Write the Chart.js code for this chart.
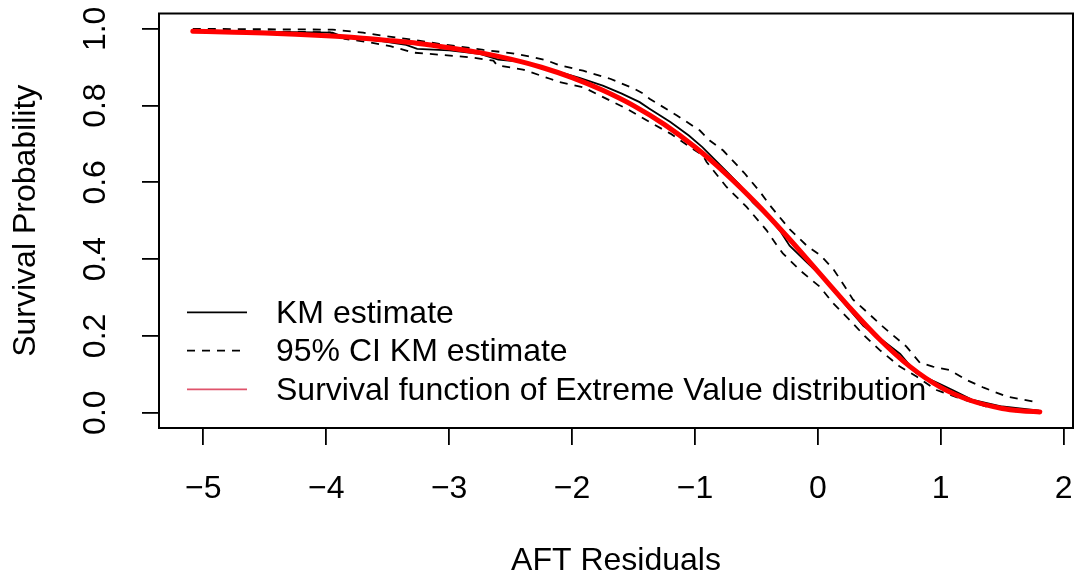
<!DOCTYPE html>
<html><head><meta charset="utf-8">
<script src="https://cdn.jsdelivr.net/npm/chart.js@4.4.1/dist/chart.umd.min.js"></script>
<style>html,body{margin:0;padding:0;background:#fff;} #wrap{width:1078px;height:580px;}</style>
</head><body><div id="wrap"><canvas id="c" width="1078" height="580"></canvas></div>
<script>
// ---- data ----
const xTicks = [-5, -4, -3, -2, -1, 0, 1, 2];
const yTicks = [0, 0.2, 0.4, 0.6, 0.8, 1.0];

const kmX = [-5.086, -4.6, -3.95, -3.85, -3.55, -3.35, -3.26, -3.0, -2.75, -2.6, -2.45, -2.2, -2.1, -1.94, -1.75, -1.6, -1.45, -1.37, -1.2, -1.05, -0.94, -0.77, -0.64, -0.53, -0.39, -0.3, -0.23, -0.1, 0.04, 0.2, 0.37, 0.52, 0.67, 0.8, 0.99, 1.1, 1.26, 1.5, 1.75, 1.8];
const kmY = [0.996, 0.993, 0.99, 0.978, 0.968, 0.958, 0.948, 0.944, 0.935, 0.92, 0.915, 0.895, 0.887, 0.872, 0.852, 0.832, 0.809, 0.792, 0.757, 0.722, 0.692, 0.637, 0.595, 0.548, 0.505, 0.47, 0.435, 0.395, 0.352, 0.29, 0.226, 0.19, 0.153, 0.103, 0.075, 0.058, 0.033, 0.016, 0.007, 0.005];

const upX = [-5.086, -3.95, -3.88, -3.7, -3.54, -3.3, -3.08, -2.9, -2.72, -2.5, -2.3, -2.2, -2.1, -1.91, -1.69, -1.5, -1.42, -1.37, -1.15, -0.96, -0.88, -0.77, -0.6, -0.47, -0.39, -0.23, -0.09, 0.02, 0.124, 0.233, 0.285, 0.4, 0.529, 0.721, 0.83, 0.935, 1.074, 1.21, 1.35, 1.535, 1.78];
const upY = [1.0, 0.998, 0.996, 0.99, 0.982, 0.972, 0.961, 0.953, 0.945, 0.937, 0.925, 0.917, 0.905, 0.891, 0.870, 0.845, 0.831, 0.818, 0.775, 0.735, 0.709, 0.683, 0.625, 0.575, 0.54, 0.478, 0.435, 0.41, 0.375, 0.322, 0.295, 0.262, 0.224, 0.172, 0.13, 0.12, 0.111, 0.085, 0.065, 0.042, 0.027];

const loX = [-5.086, -3.97, -3.85, -3.65, -3.48, -3.29, -3.05, -2.83, -2.64, -2.61, -2.4, -2.18, -2.1, -1.91, -1.69, -1.556, -1.39, -1.2, -1.04, -0.935, -0.905, -0.743, -0.58, -0.417, -0.336, -0.285, -0.146, 0.016, 0.124, 0.26, 0.38, 0.504, 0.667, 0.803, 0.966, 1.155, 1.372, 1.616, 1.75];
const loY = [0.996, 0.991, 0.974, 0.965, 0.955, 0.938, 0.932, 0.926, 0.917, 0.905, 0.894, 0.870, 0.861, 0.848, 0.813, 0.792, 0.761, 0.727, 0.692, 0.670, 0.653, 0.588, 0.536, 0.475, 0.437, 0.415, 0.371, 0.328, 0.285, 0.241, 0.2, 0.163, 0.12, 0.094, 0.059, 0.037, 0.016, 0.003, 0.001];

const evX = [-5.086, -4.75, -4.5, -4.25, -4.0, -3.75, -3.5, -3.25, -3.0, -2.75, -2.5, -2.25, -2.0, -1.75, -1.5, -1.25, -1.0, -0.75, -0.5, -0.25, 0.0, 0.25, 0.5, 0.75, 1.0, 1.25, 1.5, 1.65, 1.806];
const evY = [0.994, 0.991, 0.989, 0.986, 0.982, 0.977, 0.970, 0.962, 0.951, 0.938, 0.921, 0.900, 0.873, 0.840, 0.800, 0.751, 0.692, 0.623, 0.545, 0.459, 0.368, 0.277, 0.192, 0.120, 0.066, 0.031, 0.011, 0.005, 0.002];

const legendLabels = ['KM estimate', '95% CI KM estimate', 'Survival function of Extreme Value distribution'];
const xTitle = 'AFT Residuals';
const yTitle = 'Survival Probability';

// ---- styles ----
const FONT = "'Liberation Sans', Arial, Helvetica, sans-serif";
const FS = 32;
const legendColors = ['#000000', '#000000', '#DF536B'];
const legendDash = [[], [8, 7], []];

const pts = (xs, ys) => xs.map((x, i) => ({ x: x, y: ys[i] }));

const framePlugin = {
  id: 'frame',
  beforeDatasetsDraw(chart) {
    const { ctx, chartArea: a } = chart;
    ctx.save();
    ctx.strokeStyle = '#000';
    ctx.lineWidth = 2;
    ctx.strokeRect(a.left, a.top, a.right - a.left, a.bottom - a.top);
    ctx.restore();
  }
};

const legendPlugin = {
  id: 'rlegend',
  afterDraw(chart) {
    const { ctx, chartArea: a } = chart;
    const x0 = a.left + 28, x1 = a.left + 88, tx = a.left + 117;
    const rows = [a.bottom - 115.7, a.bottom - 77.3, a.bottom - 38.7];
    ctx.save();
    ctx.font = FS + 'px ' + FONT;
    ctx.textBaseline = 'middle';
    ctx.textAlign = 'left';
    legendLabels.forEach((lab, i) => {
      ctx.beginPath();
      ctx.setLineDash(legendDash[i]);
      ctx.strokeStyle = legendColors[i];
      ctx.lineWidth = 1.8;
      ctx.moveTo(x0, rows[i]);
      ctx.lineTo(x1, rows[i]);
      ctx.stroke();
      ctx.setLineDash([]);
      ctx.fillStyle = '#000';
      ctx.fillText(lab, tx, rows[i] + 1.5);
    });
    ctx.restore();
  }
};

new Chart(document.getElementById('c'), {
  type: 'line',
  data: {
    datasets: [
      { label: legendLabels[2], data: pts(evX, evY), borderColor: '#FF0000', borderWidth: 5,
        cubicInterpolationMode: 'monotone', pointRadius: 0, borderCapStyle: 'round', borderJoinStyle: 'round', order: 0 },
      { label: legendLabels[0], data: pts(kmX, kmY), borderColor: '#000', borderWidth: 1.8, pointRadius: 0, tension: 0, order: 1 },
      { label: legendLabels[1] + ' (upper)', data: pts(upX, upY), borderColor: '#000', borderWidth: 1.8, borderDash: [8, 7], pointRadius: 0, tension: 0, order: 2 },
      { label: legendLabels[1] + ' (lower)', data: pts(loX, loY), borderColor: '#000', borderWidth: 1.8, borderDash: [8, 7], pointRadius: 0, tension: 0, order: 3 }
    ]
  },
  options: {
    responsive: false,
    animation: false,
    devicePixelRatio: 1,
    layout: { padding: { top: 13.5, right: 5, left: 0, bottom: 0 } },
    plugins: { legend: { display: false }, tooltip: { enabled: false } },
    scales: {
      x: {
        type: 'linear', min: -5.361, max: 2.076,
        afterBuildTicks: s => { s.ticks = xTicks.map(v => ({ value: v })); },
        afterFit: s => { s.height = 152; s.paddingLeft = 0; s.paddingRight = 0; s.paddingTop = 0; s.paddingBottom = 0; },
        ticks: { callback: v => (v < 0 ? '\u2212' + Math.abs(v) : String(v)), font: { family: FONT, size: FS }, color: '#000',
                 padding: 25, autoSkip: false, maxRotation: 0, minRotation: 0 },
        grid: { display: true, drawOnChartArea: false, drawTicks: true, tickLength: 17, color: '#000', lineWidth: 1.8 },
        border: { display: false },
        title: { display: true, text: xTitle, font: { family: FONT, size: FS }, color: '#000', padding: { top: 0, bottom: 0 } }
      },
      y: {
        type: 'linear', min: -0.04, max: 1.04,
        afterBuildTicks: s => { s.ticks = yTicks.map(v => ({ value: v })); },
        afterFit: s => { s.width = 159; s.paddingLeft = 0; s.paddingRight = 0; s.paddingTop = 0; s.paddingBottom = 0; },
        ticks: { callback: v => v.toFixed(1), font: { family: FONT, size: FS }, color: '#000',
                 padding: 24, autoSkip: false, minRotation: 90, maxRotation: 90, crossAlign: 'center' },
        grid: { display: true, drawOnChartArea: false, drawTicks: true, tickLength: 17, color: '#000', lineWidth: 1.8 },
        border: { display: false },
        title: { display: true, text: yTitle, font: { family: FONT, size: FS }, color: '#000', padding: { top: 7, bottom: 0 } }
      }
    }
  },
  plugins: [framePlugin, legendPlugin]
});
</script>
</body></html>
